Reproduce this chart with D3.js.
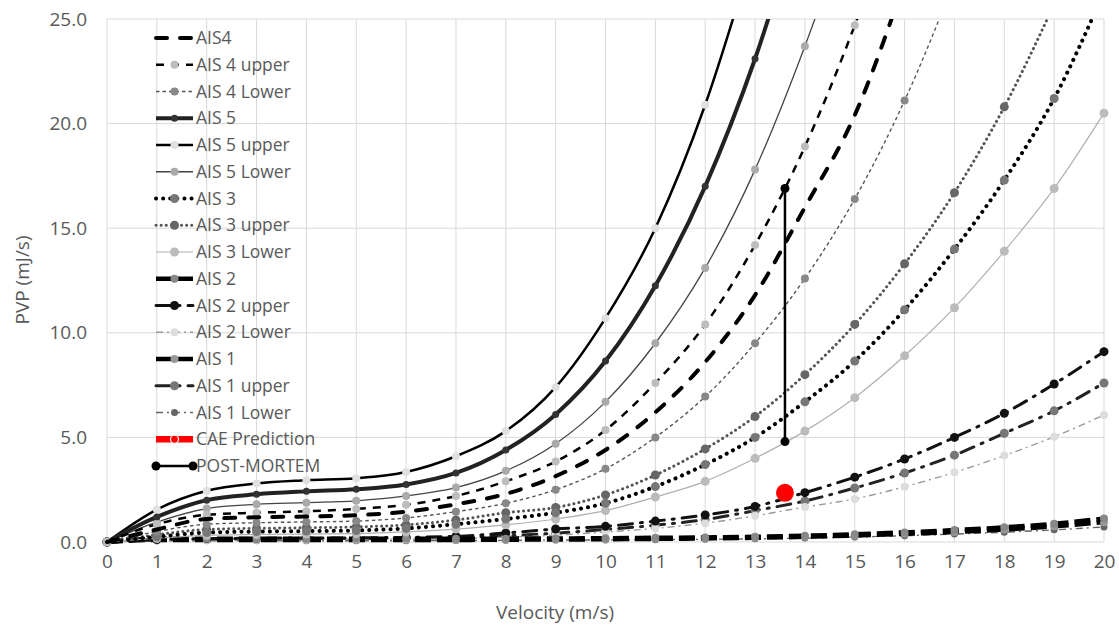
<!DOCTYPE html>
<html>
<head>
<meta charset="utf-8">
<script src="https://cdn.jsdelivr.net/npm/d3@7"></script>
<style>
  body { margin: 0; background: #fff; }
</style>
</head>
<body>
<div class="chart-div"></div>
<script>

var width = 1119;
var height = 631;

// ---- data (PVP in mJ/s at each velocity, m/s) ----
var velocity = [0, 1, 2, 3, 4, 5, 6, 7, 8, 9, 10, 11, 12, 13, 14, 15, 16, 17, 18, 19, 20];

var ais4 = [0, 0.6, 1.1, 1.18, 1.22, 1.28, 1.45, 1.8, 2.3, 3.15, 4.4, 6.2, 8.6, 11.8, 16.0, 20.4, 26.8];
var ais4Upper = [0, 0.85, 1.3, 1.4, 1.47, 1.58, 1.78, 2.2, 2.9, 3.85, 5.35, 7.6, 10.4, 14.2, 18.9, 24.7, 31.5];
var ais4Lower = [0, 0.5, 0.85, 0.92, 0.96, 1.0, 1.15, 1.45, 1.85, 2.5, 3.5, 5.0, 6.95, 9.5, 12.6, 16.4, 21.1, 26.8];
var ais5 = [0, 1.2, 2.0, 2.28, 2.42, 2.52, 2.75, 3.3, 4.4, 6.1, 8.65, 12.25, 17.0, 23.1, 30.7];
var ais5Upper = [0, 1.55, 2.45, 2.8, 2.95, 3.05, 3.35, 4.1, 5.3, 7.4, 10.7, 15.0, 20.9, 28.5];
var ais5Lower = [0, 0.95, 1.6, 1.8, 1.88, 1.97, 2.2, 2.6, 3.4, 4.7, 6.7, 9.5, 13.1, 17.8, 23.7, 30.5];
var ais3 = [0, 0.25, 0.45, 0.5, 0.52, 0.55, 0.65, 0.85, 1.1, 1.4, 1.85, 2.65, 3.7, 5.0, 6.7, 8.65, 11.1, 14.0, 17.3, 21.2, 26.3];
var ais3Upper = [0, 0.35, 0.6, 0.65, 0.68, 0.72, 0.82, 1.05, 1.4, 1.65, 2.25, 3.2, 4.45, 6.0, 8.0, 10.4, 13.3, 16.7, 20.8, 25.7];
var ais3Lower = [0, 0.18, 0.32, 0.36, 0.38, 0.4, 0.48, 0.62, 0.82, 1.1, 1.5, 2.15, 2.9, 4.0, 5.3, 6.9, 8.9, 11.2, 13.9, 16.9, 20.5];
var ais2 = [0, 0.15, 0.15, 0.15, 0.15, 0.15, 0.15, 0.15, 0.16, 0.17, 0.18, 0.2, 0.22, 0.25, 0.3, 0.37, 0.46, 0.57, 0.7, 0.87, 1.12];
var ais2Upper = [0, 0.12, 0.16, 0.18, 0.19, 0.2, 0.22, 0.27, 0.43, 0.62, 0.75, 1.0, 1.29, 1.7, 2.36, 3.1, 3.97, 5.0, 6.15, 7.55, 9.1];
var ais2Lower = [0, 0.07, 0.1, 0.11, 0.12, 0.13, 0.14, 0.17, 0.23, 0.33, 0.48, 0.65, 0.9, 1.25, 1.67, 2.06, 2.64, 3.33, 4.13, 5.03, 6.07];
var ais1 = [0, 0.1, 0.1, 0.1, 0.1, 0.1, 0.1, 0.1, 0.11, 0.12, 0.13, 0.15, 0.17, 0.2, 0.25, 0.31, 0.39, 0.48, 0.6, 0.75, 0.95];
var ais1Upper = [0, 0.1, 0.13, 0.15, 0.16, 0.17, 0.18, 0.22, 0.3, 0.42, 0.6, 0.8, 1.07, 1.5, 1.96, 2.58, 3.3, 4.15, 5.2, 6.27, 7.6];
var ais1Lower = [0, 0.06, 0.06, 0.06, 0.06, 0.06, 0.06, 0.07, 0.08, 0.09, 0.1, 0.11, 0.13, 0.15, 0.19, 0.24, 0.3, 0.38, 0.47, 0.58, 0.72];

var caeVelocity = [13.6];
var caePvp = [2.35];
var postMortemVelocity = [13.6, 13.6];
var postMortemPvp = [4.8, 16.9];

var xTicks = d3.range(0, 21, 1);
var yTicks = [0, 5, 10, 15, 20, 25];

// series in legend order, with the look of each
var series = [
    { name: "AIS4", values: ais4, stroke: "#000", sw: 4, dash: "11,13", cap: "round", marker: null },
    { name: "AIS 4 upper", values: ais4Upper, stroke: "#000", sw: 2.5, dash: "8,7", cap: "butt", marker: "#bdbdbd", r: 4 },
    { name: "AIS 4 Lower", values: ais4Lower, stroke: "#555", sw: 1.4, dash: "3.5,3", cap: "butt", marker: "#888", r: 4 },
    { name: "AIS 5", values: ais5, stroke: "#222", sw: 4, dash: null, cap: "butt", marker: "#333", r: 3.5 },
    { name: "AIS 5 upper", values: ais5Upper, stroke: "#000", sw: 2.5, dash: null, cap: "butt", marker: "#e0e0e0", r: 4 },
    { name: "AIS 5 Lower", values: ais5Lower, stroke: "#444", sw: 1.3, dash: null, cap: "butt", marker: "#aaa", r: 4 },
    { name: "AIS 3", values: ais3, stroke: "#000", sw: 4, dash: "0.1,7", cap: "round", marker: "#777", r: 4.5 },
    { name: "AIS 3 upper", values: ais3Upper, stroke: "#555", sw: 3, dash: "0.1,5", cap: "round", marker: "#666", r: 4.5 },
    { name: "AIS 3 Lower", values: ais3Lower, stroke: "#b0b0b0", sw: 1.2, dash: null, cap: "butt", marker: "#bbb", r: 4.5 },
    { name: "AIS 2", values: ais2, stroke: "#000", sw: 4.5, dash: "16,6", cap: "butt", marker: "#888", r: 4 },
    { name: "AIS 2 upper", values: ais2Upper, stroke: "#111", sw: 3, dash: "14,8,2,8", cap: "round", marker: "#111", r: 4.5 },
    { name: "AIS 2 Lower", values: ais2Lower, stroke: "#999", sw: 1.4, dash: "7,4,2,4", cap: "butt", marker: "#ddd", r: 4 },
    { name: "AIS 1", values: ais1, stroke: "#000", sw: 4.5, dash: "16,6", cap: "butt", marker: "#999", r: 4 },
    { name: "AIS 1 upper", values: ais1Upper, stroke: "#222", sw: 3, dash: "14,8,2,8", cap: "round", marker: "#777", r: 4.5 },
    { name: "AIS 1 Lower", values: ais1Lower, stroke: "#666", sw: 1.4, dash: "7,4,2,4", cap: "butt", marker: "#666", r: 3.5 }
];

var fontFam = "'Open Sans', 'DejaVu Sans', sans-serif";
var labelCol = "#595959";

var svg = d3.select("div.chart-div")
    .append("svg")
    .attr("width", width)
    .attr("height", height)

var x = d3.scaleLinear().domain([0, 20]).range([107, 1104]);
var y = d3.scaleLinear().domain([0, 25]).range([542, 19]);

svg.append("defs")
    .append("clipPath")
    .attr("id", "plotclip")
    .append("rect")
    .attr("x", x(0) - 10)
    .attr("y", y(25))
    .attr("width", x(20) - x(0) + 20)
    .attr("height", y(0) - y(25) + 10)

//----------------------------- grid

var grid = svg.append("g")

grid.selectAll("line.vg")
    .data(xTicks)
    .enter()
    .append("line")
    .attr("class", "vg")
    .attr("x1", function (d) { return x(d); })
    .attr("x2", function (d) { return x(d); })
    .attr("y1", y(25))
    .attr("y2", y(0))
    .attr("stroke", "#d9d9d9")
    .attr("stroke-width", 1)

grid.selectAll("line.hg")
    .data(yTicks)
    .enter()
    .append("line")
    .attr("class", "hg")
    .attr("x1", x(0))
    .attr("x2", x(20))
    .attr("y1", function (d) { return y(d); })
    .attr("y2", function (d) { return y(d); })
    .attr("stroke", "#d9d9d9")
    .attr("stroke-width", 1)

//----------------------------- axes

var xAxis = svg.append("g")
    .attr("transform", "translate(0," + (y(0) + 9) + ")")
    .call(d3.axisBottom(x).tickValues(xTicks).tickSize(0).tickFormat(d3.format("d")))

var yAxis = svg.append("g")
    .attr("transform", "translate(" + (x(0) - 17) + ",0)")
    .call(d3.axisLeft(y).tickValues(yTicks).tickSize(0).tickFormat(d3.format(".1f")))

svg.selectAll(".domain").remove()
svg.selectAll(".tick text")
    .attr("font-family", fontFam)
    .attr("font-size", 19)
    .style("fill", labelCol)

svg.append("text")
    .attr("x", 555)
    .attr("y", 619)
    .text("Velocity (m/s)")
    .attr("font-family", fontFam)
    .attr("font-size", 19)
    .attr("text-anchor", "middle")
    .style("fill", labelCol)

svg.append("text")
    .attr("transform", "translate(29,280) rotate(-90)")
    .text("PVP (mJ/s)")
    .attr("font-family", fontFam)
    .attr("font-size", 19)
    .attr("text-anchor", "middle")
    .style("fill", labelCol)

//----------------------------- curves

var lineGenerator = d3.line()
    .x(function (d) { return x(d[0]); })
    .y(function (d) { return y(d[1]); })
    .curve(d3.curveMonotoneX);

var plot = svg.append("g").attr("clip-path", "url(#plotclip)")

// draw from the bottom of the legend up, so the first entries sit on top
for (var k = series.length - 1; k >= 0; k--) {
    var s = series[k];
    var pts = s.values.map(function (v, i) { return [velocity[i], v]; });

    plot.append("path")
        .attr("d", lineGenerator(pts))
        .attr("fill", "none")
        .attr("stroke", s.stroke)
        .attr("stroke-width", s.sw)
        .attr("stroke-dasharray", s.dash)
        .attr("stroke-linecap", s.cap)

    if (s.marker) {
        plot.selectAll("circle.m" + k)
            .data(pts)
            .enter()
            .append("circle")
            .attr("class", "m" + k)
            .attr("cx", function (d) { return x(d[0]); })
            .attr("cy", function (d) { return y(d[1]); })
            .attr("r", s.r)
            .attr("fill", s.marker)
    }
}

// post-mortem range
var pm = postMortemVelocity.map(function (v, i) { return [v, postMortemPvp[i]]; });
plot.append("path")
    .attr("d", d3.line().x(function (d) { return x(d[0]); }).y(function (d) { return y(d[1]); })(pm))
    .attr("fill", "none")
    .attr("stroke", "#000")
    .attr("stroke-width", 2.5)

plot.selectAll("circle.pm")
    .data(pm)
    .enter()
    .append("circle")
    .attr("cx", function (d) { return x(d[0]); })
    .attr("cy", function (d) { return y(d[1]); })
    .attr("r", 4.5)
    .attr("fill", "#000")

// CAE prediction
plot.selectAll("circle.cae")
    .data(caeVelocity)
    .enter()
    .append("circle")
    .attr("cx", function (d) { return x(d); })
    .attr("cy", function (d, i) { return y(caePvp[i]); })
    .attr("r", 9)
    .attr("fill", "#ff0000")

//----------------------------- legend

var legend = svg.append("g")
var lx0 = 156, lx1 = 193, ly0 = 38, lstep = 26.75;

var legendItems = series.concat([
    { name: "CAE Prediction", stroke: "#ff0000", sw: 6.5, dash: null, cap: "butt", marker: "#ff0000", r: 4, ring: true },
    { name: "POST-MORTEM", stroke: "#000", sw: 2.5, dash: null, cap: "butt", marker: null, ends: true }
]);

legendItems.forEach(function (s, k) {
    var ly = ly0 + k * lstep;

    legend.append("line")
        .attr("x1", lx0)
        .attr("x2", lx1)
        .attr("y1", ly)
        .attr("y2", ly)
        .attr("stroke", s.stroke)
        .attr("stroke-width", s.sw)
        .attr("stroke-dasharray", s.dash)
        .attr("stroke-linecap", s.cap)

    if (s.marker) {
        legend.append("circle")
            .attr("cx", (lx0 + lx1) / 2)
            .attr("cy", ly)
            .attr("r", s.r)
            .attr("fill", s.marker)
            .attr("stroke", s.ring ? "#fff" : "none")
            .attr("stroke-width", 1.2)
    }
    if (s.ends) {
        [lx0, lx1].forEach(function (cx) {
            legend.append("circle")
                .attr("cx", cx)
                .attr("cy", ly)
                .attr("r", 4.5)
                .attr("fill", "#000")
        })
    }

    legend.append("text")
        .attr("x", lx1 + 3)
        .attr("y", ly + 6)
        .text(s.name)
        .attr("font-family", fontFam)
        .attr("font-size", 17.5)
        .style("fill", labelCol)
})

</script>
</body>
</html>
